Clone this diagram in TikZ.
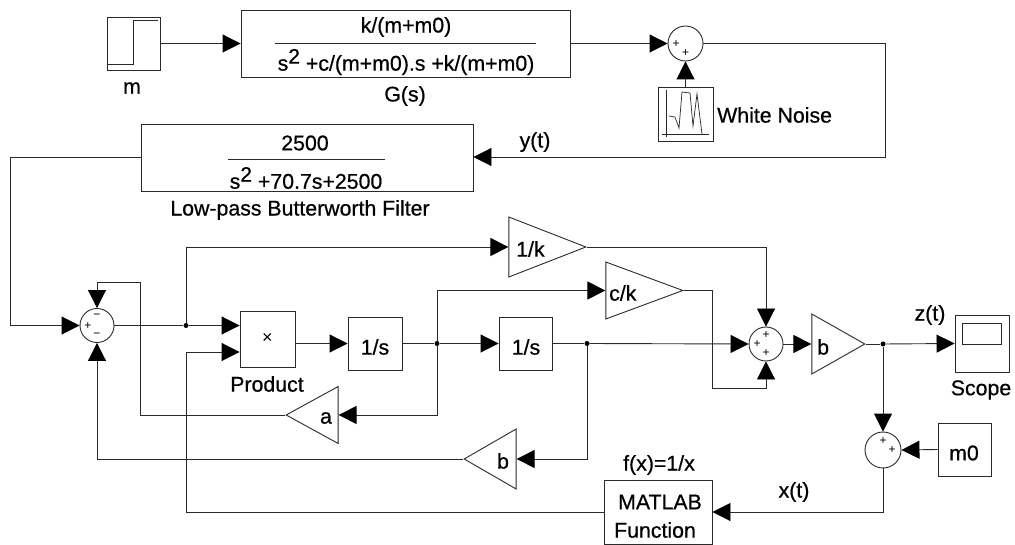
\documentclass[tikz,border=0pt]{standalone}
\usepackage{fontspec}
\setmainfont{Liberation Sans}
\usetikzlibrary{arrows.meta,shapes.geometric}
\definecolor{ink}{HTML}{2A2A2A}
\newcommand{\sqr}{\raisebox{7pt}{\fontsize{21}{21}\selectfont 2}}
\tikzset{
  blockbox/.style={draw=ink,line width=0.9pt,rectangle,inner sep=0pt,minimum width=#1},
  blockbox/.default=54pt,
  sumring/.style={draw=ink,line width=0.9pt,circle,inner sep=0pt,minimum size=#1},
  sumring/.default=35pt,
  gainR/.style={draw=ink,line width=0.9pt,isosceles triangle,isosceles triangle stretches,
    shape border rotate=0,inner sep=0pt,anchor=apex},
  gainL/.style={draw=ink,line width=0.9pt,isosceles triangle,isosceles triangle stretches,
    shape border rotate=180,inner sep=0pt,anchor=apex},
  wire/.style={draw=ink,line width=0.9pt},
  sig/.style={wire,-{Triangle[length=18pt,width=18pt,color=black]}},
  dotmark/.style={fill=black,circle,inner sep=0pt,minimum size=5pt},
  lab/.style={inner sep=0pt,text=black,font=\fontsize{21.3}{24}\selectfont\addfontfeature{FakeBold=0.6}},
  sgn/.style={inner sep=0pt,text=black,font=\fontsize{12}{12}\selectfont},
  thin line/.style={draw=ink,line width=0.7pt}
}
\begin{document}
\begin{tikzpicture}[x=1pt,y=-1pt]
\useasboundingbox[fill=white] (0,0) rectangle (1015,545);

% ---- top row
\node[blockbox=53pt,minimum height=53pt] (m) at (133.5,43.5) {};
\draw[thin line] (107,64) -- (133,64) -- (133,20) -- (158,20);
\node[lab] (mlab) at (132,88) {m};

\node[blockbox=329pt,minimum height=67pt] (G) at (405.5,43.5) {};
\draw[thin line] (275,43.5) -- (536,43.5);
\node[lab] (Gnum) at (406,27) {k/(m+m0)};
\node[lab] (Gden) at (406,62) {s\sqr{} +c/(m+m0).s +k/(m+m0)};
\node[lab] (Glab) at (405,96) {G(s)};

\node[sumring] (S1) at (685.5,43.5) {};
\node[sgn] (S1a) at (676,44) {+};
\node[sgn] (S1b) at (685.5,53) {+};

\node[blockbox=55pt,minimum height=54pt] (W) at (685.5,114) {};
\draw[thin line] (666,90) -- (666,137);
\draw[thin line] (662,134) -- (709,134);
\draw[thin line] (669,116) -- (675,117) -- (679,128) -- (682,92) -- (690,93) -- (693,126) -- (697,94) -- (702,134);
\node[lab,anchor=west] (Wlab) at (717,115) {White Noise};

\node[blockbox=332pt,minimum height=67pt] (F) at (307,158) {};
\draw[thin line] (228,159) -- (385,159);
\node[lab] (Fnum) at (305,143) {2500};
\node[lab] (Fden) at (306,178) {s\sqr{} +70.7s+2500};
\node[lab] (Flab) at (300,210) {Low-pass Butterworth Filter};
\node[lab] (ylab) at (535,142) {y(t)};

\coordinate (c1) at (885,157);
\coordinate (c2) at (10,157);

% ---- middle row
\node[sumring=34pt] (S2) at (97,325.5) {};
\node[sgn] (S2a) at (88,326) {+};
\node[sgn] (S2b) at (97,316) {−};
\node[sgn] (S2c) at (97,335) {−};

\node[blockbox=55pt,minimum height=56pt] (P) at (267.5,339) {};
\node[font=\fontsize{18}{18}\selectfont,inner sep=0pt] (Px) at (267.5,338) {×};
\node[lab] (Plab) at (267,384) {Product};
\coordinate (Pa) at (P.west |- 0,325.5);
\coordinate (Pb) at (P.west |- 0,352);

\node[blockbox=54pt,minimum height=53pt] (I1) at (375,343.5) {};
\node[lab] (I1t) at (375,347) {1/s};
\node[blockbox=53pt,minimum height=53pt] (I2) at (525.5,343.5) {};
\node[lab] (I2t) at (526,347) {1/s};

\node[gainR,minimum height=77pt,minimum width=60pt] (K1) at (587,247) {};
\node[lab,anchor=west] (K1t) at (516,249) {1/k};
\node[gainR,minimum height=77pt,minimum width=57pt] (K2) at (684,290.5) {};
\node[lab,anchor=west] (K2t) at (609,293) {c/k};

\node[gainL,minimum height=52pt,minimum width=57pt] (A) at (285,415) {};
\node[lab] (At) at (326,418) {a};
\node[gainL,minimum height=52pt,minimum width=60pt] (B) at (463,459) {};
\node[lab] (Bt) at (503,461) {b};

\node[sumring=34pt] (S3) at (766,344) {};
\node[sgn] (S3a) at (766,335) {+};
\node[sgn] (S3b) at (757,344) {+};
\node[sgn] (S3c) at (766,353) {+};

\node[gainR,minimum height=53pt,minimum width=60pt] (C) at (866,344) {};
\node[lab,anchor=west] (Ct) at (817,347) {b};

\node[blockbox=54pt,minimum height=57pt] (Sc) at (982,343.5) {};
\node[draw=ink,line width=0.7pt,inner sep=0pt,minimum width=39pt,minimum height=21pt] (Scr) at (981.5,333.5) {};
\node[lab] (Sclab) at (981,390) {Scope};
\node[lab] (zlab) at (930,315) {z(t)};

% ---- bottom row
\node[sumring=36pt] (S4) at (883,450) {};
\node[sgn] (S4a) at (883,441) {+};
\node[sgn] (S4b) at (892,450) {+};
\node[blockbox=53pt,minimum height=53pt] (M0) at (964.5,449.5) {};
\node[lab] (M0t) at (964,453) {m0};

\node[blockbox=108pt,minimum height=64pt] (ML) at (658,512) {};
\node[lab] (MLa) at (660,502) {MATLAB};
\node[lab] (MLb) at (655,530) {Function};
\node[lab] (MLlab) at (659,465) {f(x)=1/x};
\node[lab] (xlab) at (794,492) {x(t)};

% ---- junctions
\node[dotmark] (d1) at (186,325.5) {};
\node[dotmark] (d2) at (437,343.5) {};
\node[dotmark] (d3) at (587,343.5) {};
\node[dotmark] (d4) at (883,344) {};

% ---- connectors
\draw[sig] (m.east) -- (G.west);
\draw[sig] (G.east) -- (S1.west);
\draw[sig] (W.north) -- (S1.south);
\draw[sig] (S1.east) -| (c1) -- (F.east |- c1);
\draw[sig] (F.west |- c2) -- (c2) |- (S2.west);
\draw[wire] (S2.east) -- (d1);
\draw[sig] (d1) -- (Pa);
\draw[sig] (d1) |- (K1.lower side);
\draw[sig] (ML.west) -| (186,352) -- (Pb);
\draw[sig] (P.east |- I1) -- (I1.west);
\draw[wire] (I1.east) -- (d2);
\draw[sig] (d2) -- (I2.west);
\draw[sig] (d2) |- (K2.lower side);
\draw[sig] (d2) |- (A.lower side);
\draw[wire] (I2.east) -- (d3);
\draw[sig] (d3) -- (S3.west);
\draw[sig] (d3) |- (B.lower side);
\draw[sig] (A.apex) -| (140,282) -| (S2.north);
\draw[sig] (B.apex) -| (S2.south);
\draw[sig] (K1.apex) -| (S3.north);
\draw[sig] (K2.apex) -| (712,388) -| (S3.south);
\draw[sig] (S3.east) -- (C.lower side);
\draw[wire] (C.apex) -- (d4);
\draw[sig] (d4) -- (Sc.west);
\draw[sig] (d4) -- (S4.north);
\draw[sig] (M0.west) -- (S4.east);
\draw[sig] (S4.south) |- (ML.east);
\end{tikzpicture}
\end{document}
